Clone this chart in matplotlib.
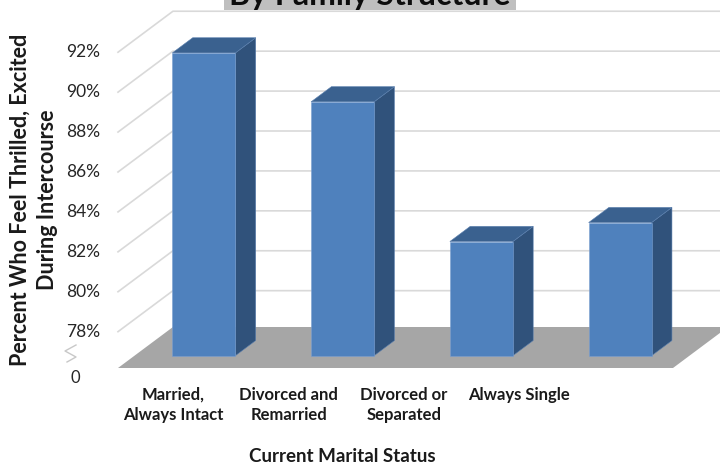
import numpy as np
import matplotlib
matplotlib.use("Agg")
import matplotlib.pyplot as plt
from matplotlib.patches import Polygon, Rectangle
from matplotlib.lines import Line2D

plt.rcParams['font.family'] = ['Lato', 'DejaVu Sans']

categories = ['Married,\nAlways Intact', 'Divorced and\nRemarried', 'Divorced or\nSeparated', 'Always Single']
values = [91.35, 88.9, 81.9, 82.85]
ticks = [78, 80, 82, 84, 86, 88, 90, 92]
tick_labels = ['78%', '80%', '82%', '84%', '86%', '88%', '90%', '92%']
floor = 76.18          # value where the broken axis shows "0"
title = 'By Family Structure'
ylabel = 'Percent Who Feel Thrilled, Excited\nDuring Intercourse'
xlabel = 'Current Marital Status'

W, H = 720, 466
fig = plt.figure(figsize=(7.2, 4.66), dpi=100)
ax = fig.add_axes([118 / W, (H - 368) / H, 555 / W, 368 / H])
ax.set_xlim(-0.5, 3.5)
ax.set_ylim(floor, floor + 368 / 19.96)
ax.axis('off')

# oblique depth of the whole box, in data units
DX, DY = 0.396, 2.054
f0, fd = 0.30, 0.37   # bar front depth fraction and bar depth
bw = 0.454

# back wall gridlines
for t in ticks:
    ax.plot([-0.5, -0.5 + DX, 3.5 + DX + 0.2], [t, t + DY, t + DY],
            color='#d9d9d9', lw=1.2, zorder=0, clip_on=False)

# floor
ax.add_patch(Polygon([(-0.5, floor), (3.5, floor), (3.5 + DX, floor + DY), (-0.5 + DX, floor + DY)],
                     closed=True, facecolor='#a6a6a6', edgecolor='none', zorder=1, clip_on=False))

# bars
x = np.arange(len(values))
for xi, v in zip(x, values):
    x0 = xi + f0 * DX - bw / 2
    x1 = x0 + bw
    b = floor + f0 * DY
    top = v + f0 * DY
    ddx, ddy = fd * DX, fd * DY
    ax.add_patch(Polygon([(x1, b), (x1, top), (x1 + ddx, top + ddy), (x1 + ddx, b + ddy)],
                         closed=True, facecolor='#30527b', edgecolor='#5a7fae', lw=0.4, zorder=2, clip_on=False))
    ax.add_patch(Polygon([(x0, top), (x1, top), (x1 + ddx, top + ddy), (x0 + ddx, top + ddy)],
                         closed=True, facecolor='#3a618f', edgecolor='#5a7fae', lw=0.4, zorder=2, clip_on=False))
    ax.add_patch(Rectangle((x0, b), bw, v - floor, facecolor='#4f81bd',
                           edgecolor='#7a9fd0', lw=0.4, zorder=3, clip_on=False))

# y tick labels
for t, lab in zip(ticks, tick_labels):
    ax.text(-0.5 - 18 / 138.75, t, lab, ha='right', va='center', fontsize=12.5, color='#262626')
fig.text(75 / W, 1 - 378 / H, '0', ha='center', va='center', fontsize=12, color='#262626')

# axis break mark
fig.add_artist(Line2D(np.array([76, 65, 76, 67]) / W, 1 - np.array([345, 351, 357, 362]) / H,
                      color='#c8c8c8', lw=1))

# x labels (compressed by the perspective)
label_x = [-0.1 + 0.83 * i for i in range(len(categories))]
for lx, lab in zip(label_x, categories):
    ax.text(lx, floor - 19 / 19.96, lab, ha='center', va='top', fontsize=12,
            fontweight='bold', color='#1a1a1a', linespacing=1.3)

fig.text(342 / W, 1 - 456 / H, xlabel, ha='center', va='center', fontsize=13.5,
         fontweight='bold', color='#1a1a1a')
fig.text(34 / W, 1 - 200 / H, ylabel, ha='center', va='center', rotation=90, fontsize=15.5,
         fontweight='bold', color='#1a1a1a', linespacing=1.4)

# title box, mostly above the picture
fig.add_artist(Rectangle((224 / W, 1 - 10 / H), 292 / W, 30 / H, transform=fig.transFigure,
                         facecolor='#bfbfbf', edgecolor='none', clip_on=False))
fig.text(370 / W, 1 - 5 / H, title, ha='center', va='baseline', fontsize=23,
         fontweight='bold', color='#0d0d0d')

fig.savefig('out.png', dpi=100)
